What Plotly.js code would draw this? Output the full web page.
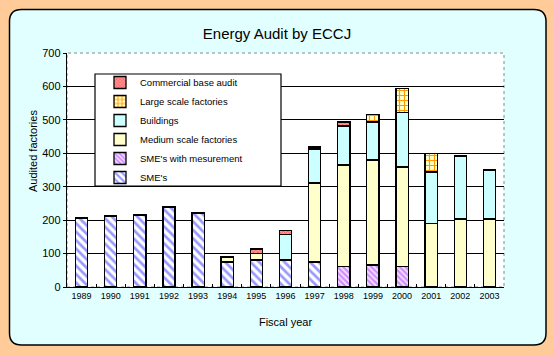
<!DOCTYPE html>
<html><head><meta charset="utf-8">
<script src="https://cdn.plot.ly/plotly-3.0.1.min.js"></script>
<style>html,body{margin:0;padding:0;background:#FFCC99;}#chart{width:554px;height:355px;}</style>
</head><body><div id="chart"></div>
<script>
const years = ['1989','1990','1991','1992','1993','1994','1995','1996','1997','1998','1999','2000','2001','2002','2003'];
const smes        = [206, 212, 215, 239, 221, 75, 81, 81, 75, 0, 0, 0, 0, 0, 0];
const smesMeasure = [0, 0, 0, 0, 0, 0, 0, 0, 0, 62, 66, 62, 0, 0, 0];
const medium      = [0, 0, 0, 0, 0, 15, 20, 0, 236, 303, 314, 297, 191, 203, 203];
const buildings   = [0, 0, 0, 0, 0, 0, 0, 77, 102, 117, 114, 162, 153, 189, 147];
const large       = [0, 0, 0, 0, 0, 0, 0, 0, 0, 0, 21, 72, 56, 0, 0];
const commercial  = [0, 0, 0, 0, 0, 0, 13, 10, 6, 12, 0, 0, 0, 0, 0];

const F = '"Liberation Sans", Arial, sans-serif';
const line = {color:'#000', width:1.3};
function tr(name, y, color, pattern){
  const m = {color: color, line: line};
  if (pattern) m.pattern = pattern;
  return {type:'bar', name:name, x:years, y:y.map(v=>v===0?null:v), marker:m, width:0.42, hoverinfo:'skip'};
}
const data = [
  tr("SME's", smes, '#ffffff', {shape:'\\', fgcolor:'#9999ff', bgcolor:'#ffffff', size:6, solidity:0.45}),
  tr("SME's with mesurement", smesMeasure, '#eeccff', {shape:'\\', fgcolor:'#cc88ff', bgcolor:'#f4ddff', size:4, solidity:0.5}),
  tr('Medium scale factories', medium, '#ffffcc'),
  tr('Buildings', buildings, '#ccffff'),
  tr('Large scale factories', large, '#ffffcc', {shape:'+', fgcolor:'#ff9900', bgcolor:'#ffffcc', size:5, solidity:0.4}),
  tr('Commercial base audit', commercial, '#ff8080', {shape:'x', fgcolor:'#ff5050', bgcolor:'#ff9999', size:3, solidity:0.4})
];

const L=(9.5-67)/437, R=(546-67)/437, T=(287-9.5)/234, B=(287-345)/234;
const rx=12/437, ry=12/234;
const panel = `M ${L+rx},${T} L ${R-rx},${T} Q ${R},${T} ${R},${T-ry} L ${R},${B+ry} Q ${R},${B} ${R-rx},${B} L ${L+rx},${B} Q ${L},${B} ${L},${B+ry} L ${L},${T-ry} Q ${L},${T} ${L+rx},${T} Z`;

const layout = {
  width:554, height:355,
  margin:{l:67, r:50, t:53, b:68},
  paper_bgcolor:'#FFCC99', plot_bgcolor:'rgba(0,0,0,0)',
  barmode:'stack', bargap:0.58,
  font:{family:F, size:11, color:'#000'},
  title:{text:'Energy Audit by ECCJ', font:{family:F, size:15, color:'#000'}, x:0.5, xanchor:'center', y:1-34/355, yanchor:'middle'},
  xaxis:{type:'category', showgrid:false, showline:true, linecolor:'#000', linewidth:1.3,
         ticks:'inside', tickson:'boundaries', ticklen:3, tickcolor:'#000', tickfont:{family:F, size:9},
         title:{text:'Fiscal year', font:{family:F, size:11}, standoff:18}},
  yaxis:{range:[0,700], dtick:100, showgrid:true, gridcolor:'#000', gridwidth:1, zeroline:false,
         showline:true, linecolor:'#000', linewidth:1.3, ticks:'outside', ticklen:3, tickcolor:'#000',
         tickfont:{family:F, size:11}},
  annotations:[
    {text:'Audited factories', textangle:-90, xref:'paper', yref:'paper', x:(33-67)/437, y:(287-151)/234,
     xanchor:'center', yanchor:'middle', showarrow:false, font:{family:F, size:11}}
  ],
  showlegend:true,
  legend:{x:(100-67)/437, xanchor:'left', y:(287-68)/234, yanchor:'top', bgcolor:'rgba(0,0,0,0)',
          borderwidth:0, traceorder:'reversed', font:{family:F, size:9.5}, itemwidth:30,
          tracegroupgap:0, itemclick:false},
  shapes:[
    {type:'path', xref:'paper', yref:'paper', path:panel, fillcolor:'#E2FFFF', line:{color:'#000', width:1.5}, layer:'below'},
    {type:'rect', xref:'paper', yref:'paper', x0:0, x1:1, y0:0, y1:1, fillcolor:'#ffffff', line:{color:'#888', width:1, dash:'dot'}, layer:'below'},
    {type:'rect', xref:'paper', yref:'paper', x0:(95-67)/437, x1:(281-67)/437, y0:(287-186)/234, y1:(287-74)/234, fillcolor:'#ffffff', line:{color:'#000', width:1.2}, layer:'above'}
  ]
};
Plotly.newPlot('chart', data, layout, {staticPlot:true, displayModeBar:false});
</script></body></html>
